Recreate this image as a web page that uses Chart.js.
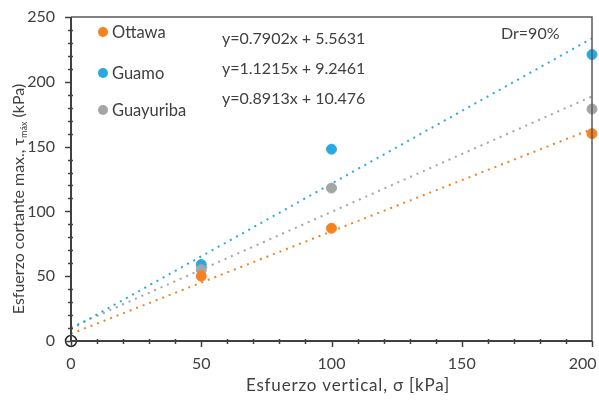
<!DOCTYPE html>
<html>
<head>
<meta charset="utf-8">
<script src="https://cdn.jsdelivr.net/npm/chart.js@4"></script>
<style>
  html, body { margin:0; padding:0; background:#fff; }
  #wrap { width:599px; height:401px; }
</style>
</head>
<body>
<div id="wrap"><canvas id="chart" width="599" height="401"></canvas></div>
<script>
const seriesNames = ['Ottawa', 'Guamo', 'Guayuriba'];
const seriesColors = ['#F5821F', '#29A9E1', '#A5A5A5'];
const xValues = [50, 100, 200];
const ottawa    = [50, 87, 160];
const guamo     = [59, 148, 221];
const guayuriba = [55, 118, 179];
const slopes     = [0.7902, 1.1215, 0.8913];
const intercepts = [5.5631, 9.2461, 10.476];
const equations  = ['y=0.7902x + 5.5631', 'y=1.1215x + 9.2461', 'y=0.8913x + 10.476'];
const xRange = [0, 200];
const yRange = [0, 250];
const note = 'Dr=90%';
const xTitle = 'Esfuerzo vertical, σ [kPa]';
const yTitle = ['Esfuerzo cortante max., τ', 'máx', ' (kPa)'];

const FONT = 'Lato, "Open Sans", sans-serif';
const TXT = '#404040';
const ys = [ottawa, guamo, guayuriba];
const pointOrder = [1, 3, 2]; // orange on top, then gray, then blue

const datasets = [];
// dotted trend lines (from displayed equations)
ys.forEach((_, i) => {
  datasets.push({
    type:'line', label: seriesNames[i] + ' trend',
    data: xRange.map(x => ({ x, y: slopes[i] * x + intercepts[i] })),
    borderColor: seriesColors[i], borderWidth: 2, borderDash: [2, 5],
    pointRadius: 0, fill: false, order: 5
  });
});
// measured points
ys.forEach((vals, i) => {
  datasets.push({
    type:'scatter', label: seriesNames[i],
    data: xValues.map((x, k) => ({ x, y: vals[k] })),
    backgroundColor: seriesColors[i], borderColor: seriesColors[i],
    pointRadius: 5, pointHoverRadius: 5, order: pointOrder[i], clip: false
  });
});
// origin point (open marker)
datasets.push({
  type:'scatter', label:'origen', data:[{ x:0, y:0 }],
  backgroundColor:'rgba(255,255,255,0)', borderColor:'#262626', borderWidth:1.5,
  pointRadius: 5.5, order: 0, clip: false
});

const decor = {
  id:'decor',
  afterDatasetsDraw(chart) {
    const { ctx, chartArea:a, scales:{ x, y } } = chart;
    ctx.save();
    // frame
    ctx.strokeStyle = '#595959'; ctx.lineWidth = 1.5;
    ctx.beginPath();
    ctx.moveTo(a.left, a.top); ctx.lineTo(a.right, a.top); ctx.lineTo(a.right, a.bottom);
    ctx.stroke();
    ctx.strokeStyle = '#404040'; ctx.lineWidth = 2;
    ctx.beginPath();
    ctx.moveTo(a.left, a.top); ctx.lineTo(a.left, a.bottom); ctx.lineTo(a.right, a.bottom);
    ctx.stroke();
    // ticks
    ctx.lineWidth = 1.5;
    for (let v = xRange[0]; v <= xRange[1]; v += 10) {
      const px = Math.round(x.getPixelForValue(v)) + 0.5;
      ctx.beginPath();
      if (v % 50 === 0) { ctx.moveTo(px, a.bottom); ctx.lineTo(px, a.bottom + 6); }
      else { ctx.moveTo(px, a.bottom - 2); ctx.lineTo(px, a.bottom + 3); }
      ctx.stroke();
    }
    for (let v = yRange[0]; v <= yRange[1]; v += 10) {
      const py = Math.round(y.getPixelForValue(v)) + 0.5;
      ctx.beginPath();
      if (v % 50 === 0) { ctx.moveTo(a.left - 6, py); ctx.lineTo(a.left, py); }
      else { ctx.moveTo(a.left - 3, py); ctx.lineTo(a.left + 2, py); }
      ctx.stroke();
    }
    // legend
    ctx.textBaseline = 'middle'; ctx.textAlign = 'left';
    ctx.font = '16.5px ' + FONT;
    const legY = [32, 73, 110];
    seriesNames.forEach((n, i) => {
      ctx.fillStyle = seriesColors[i];
      ctx.beginPath(); ctx.arc(103, legY[i], 5, 0, Math.PI * 2); ctx.fill();
      ctx.fillStyle = TXT;
      ctx.fillText(n, 112, legY[i] + 1);
    });
    // equations
    ctx.font = '16px ' + FONT;
    const eqY = [39, 69, 99];
    equations.forEach((e, i) => ctx.fillText(e, 222, eqY[i]));
    ctx.fillText(note, 501, 34);
    // x title
    ctx.textAlign = 'center';
    ctx.font = '17px ' + FONT;
    ctx.letterSpacing = '0.8px';
    ctx.fillText(xTitle, 348, 386);
    // y title with subscript
    ctx.letterSpacing = '0px';
    ctx.translate(19, 199);
    ctx.rotate(-Math.PI / 2);
    const [p1, sub, p2] = yTitle;
    ctx.font = '16px ' + FONT;
    const w1 = ctx.measureText(p1).width, w3 = ctx.measureText(p2).width;
    ctx.font = '9px ' + FONT;
    const w2 = ctx.measureText(sub).width;
    let sx = -(w1 + w2 + w3) / 2;
    ctx.textAlign = 'left';
    ctx.font = '16px ' + FONT; ctx.fillText(p1, sx, 0); sx += w1;
    ctx.font = '9px ' + FONT; ctx.fillText(sub, sx, 5); sx += w2;
    ctx.font = '16px ' + FONT; ctx.fillText(p2, sx, 0);
    ctx.restore();
  }
};

new Chart(document.getElementById('chart'), {
  type:'scatter',
  data:{ datasets },
  options:{
    responsive:false, animation:false, devicePixelRatio:1,
    layout:{ autoPadding:false, padding:{ top:17, right:7, left:0, bottom:0 } },
    plugins:{ legend:{ display:false }, tooltip:{ enabled:false } },
    scales:{
      x:{ type:'linear', min:xRange[0], max:xRange[1],
        grid:{ display:false }, border:{ display:false },
        ticks:{ stepSize:50, color:TXT, font:{ family:FONT, size:16 }, padding:5, maxRotation:0,
          // keep the last label inside the canvas, as in the original
          callback: v => v === xRange[1] ? v + '\u2007\u2007' : '' + v },
        afterFit(s){ s.height = 60; s.paddingLeft = 0; s.paddingRight = 0; } },
      y:{ type:'linear', min:yRange[0], max:yRange[1],
        grid:{ display:false }, border:{ display:false },
        ticks:{ stepSize:50, color:TXT, font:{ family:FONT, size:16 }, padding:8 },
        afterFit(s){ s.width = 71; s.paddingTop = 0; s.paddingBottom = 0; } }
    }
  },
  plugins:[decor]
});
</script>
</body>
</html>
